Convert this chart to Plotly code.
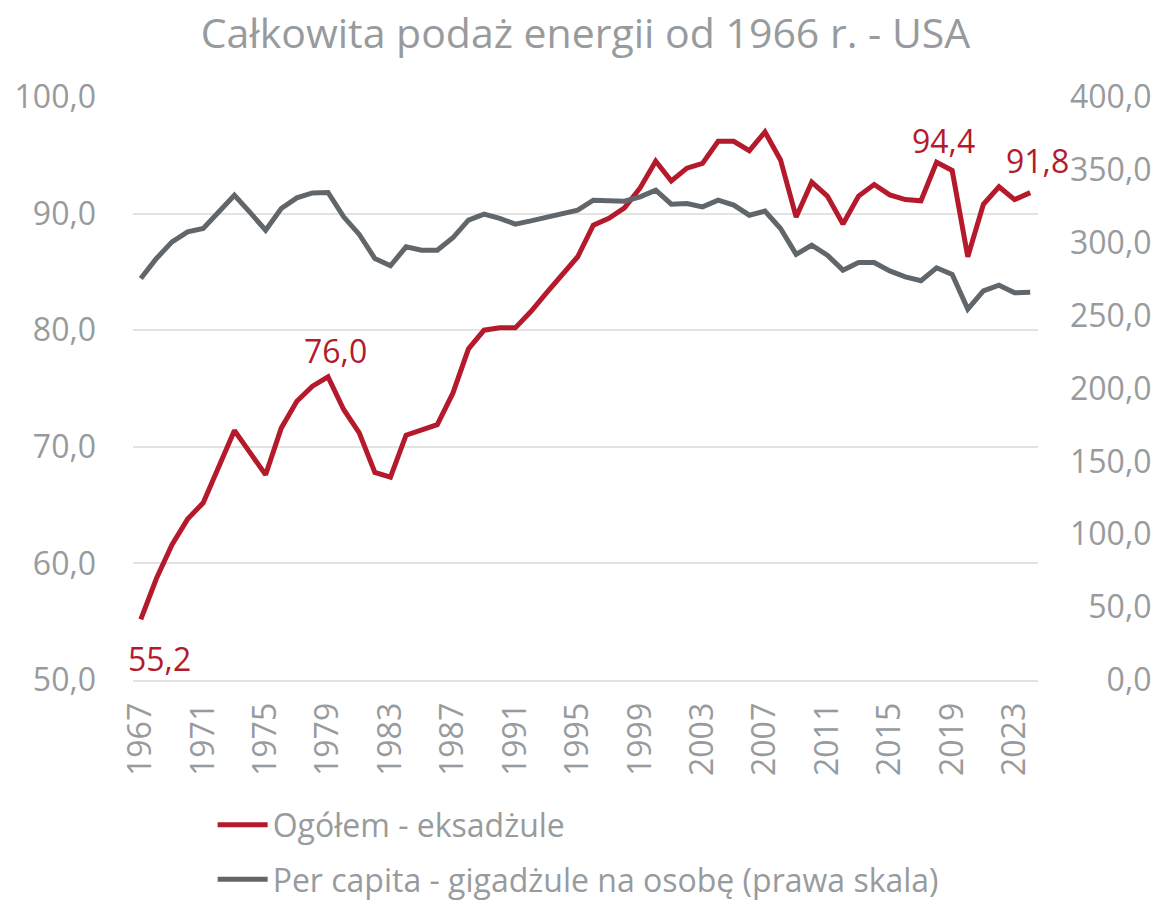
import plotly.graph_objects as go

# dane
lata = list(range(1967, 2025))

ogolem = [55.2, 58.7, 61.6, 63.8, 65.2, 68.3, 71.4, 69.5, 67.6, 71.6,
          73.9, 75.2, 76.0, 73.2, 71.2, 67.8, 67.4, 71.0, 71.4, 71.9,
          74.6, 78.4, 80.0, 80.2, 80.2, 81.6, 83.2, 84.8, 86.3, 89.0,
          89.6, 90.5, 92.2, 94.5, 92.8, 93.9, 94.3, 96.2, 96.2, 95.4,
          97.0, 94.6, 89.7, 92.7, 91.5, 89.1, 91.5, 92.5, 91.6, 91.2,
          91.1, 94.4, 93.7, 86.3, 90.8, 92.3, 91.2, 91.8]

per_capita = [275.5, 289.2, 300.6, 307.5, 309.8, 321.7, 332.6, 320.8, 308.6, 323.5,
              330.8, 334.2, 334.5, 317.8, 305.7, 289.2, 284.2, 297.2, 294.9, 294.9,
              303.4, 315.5, 319.6, 316.7, 312.8, 315.0, 317.3, 320.1, 322.4, 329.2,
              328.5, 328.5, 331.5, 336.1, 326.5, 326.9, 324.6, 329.2, 325.8, 318.9,
              321.7, 309.8, 292.0, 298.4, 291.5, 281.2, 286.5, 286.5, 280.7, 276.6,
              273.9, 282.8, 278.2, 254.5, 267.0, 270.9, 265.7, 266.0]

etykiety_lat = [1967, 1979, 2018, 2024]
prawa_skala = list(range(0, 401, 50))

czerwony = '#B41A2C'
szary = '#60666A'
szary_tekst = '#979B9D'
czcionka = 'Open Sans'


def fmt(v):
    return f'{v:.1f}'.replace('.', ',')


# prawa oś wyrównana do prawej - dopełnienie spacjami cyfrowymi
prawa_tekst = [fmt(v).rjust(5, '\u2007') for v in prawa_skala]

fig = go.Figure()
fig.add_trace(go.Scatter(x=lata, y=ogolem, mode='lines', name='Ogółem - eksadżule',
                         line=dict(color=czerwony, width=5), legendgroup='a'))
fig.add_trace(go.Scatter(x=lata, y=per_capita, mode='lines', yaxis='y2',
                         name='Per capita - gigadżule na osobę (prawa skala)',
                         line=dict(color=szary, width=5), legendgroup='b'))

# etykiety danych
przesuniecia = {1967: (19, -39), 1979: (7, 26), 2018: (7, 22), 2024: (7, 32)}
for rok in etykiety_lat:
    i = lata.index(rok)
    dx, dy = przesuniecia[rok]
    fig.add_annotation(x=rok, y=ogolem[i], text=fmt(ogolem[i]),
                       showarrow=False, xshift=dx, yshift=dy,
                       font=dict(color=czerwony, size=32, family=czcionka))

# strona ma 8 px marginesu, więc wykres jest o tyle mniejszy
fig.update_layout(
    width=1155, height=896,
    margin=dict(l=125, r=125, t=89, b=224, autoexpand=False),
    plot_bgcolor='white',
    paper_bgcolor='white',
    separators=', ',
    font=dict(family=czcionka, color=szary_tekst, size=32),
    title=dict(text='Całkowita podaż energii od 1966 r. - USA', x=0.5, xanchor='center',
               y=1 - 26 / 896, yanchor='middle',
               font=dict(size=41, color=szary_tekst, family=czcionka)),
    xaxis=dict(range=[1966.5, 2024.5], tickmode='array', tickvals=lata[::4],
               tickangle=-90, showgrid=False, zeroline=False,
               showline=True, linecolor='#E3E3E3', linewidth=2,
               ticks='', ticklabelstandoff=8, tickfont=dict(size=32, color=szary_tekst)),
    yaxis=dict(range=[50, 100], dtick=10, tickformat='.1f', showgrid=True,
               gridcolor='#E3E3E3', gridwidth=2, zeroline=False, ticks='',
               ticklabelstandoff=36, tickfont=dict(size=32, color=szary_tekst)),
    yaxis2=dict(range=[0, 400], tickmode='array', tickvals=prawa_skala, ticktext=prawa_tekst,
                overlaying='y', side='right',
                showgrid=False, zeroline=False, ticks='', ticklabelstandoff=31,
                tickfont=dict(size=32, color=szary_tekst)),
    legend=dict(x=0.088, y=-0.2015, xanchor='left', yanchor='top', orientation='v',
                tracegroupgap=10, itemwidth=50, font=dict(size=32, color=szary_tekst),
                bgcolor='rgba(0,0,0,0)'),
    showlegend=True,
)

fig.write_html("out.html")
